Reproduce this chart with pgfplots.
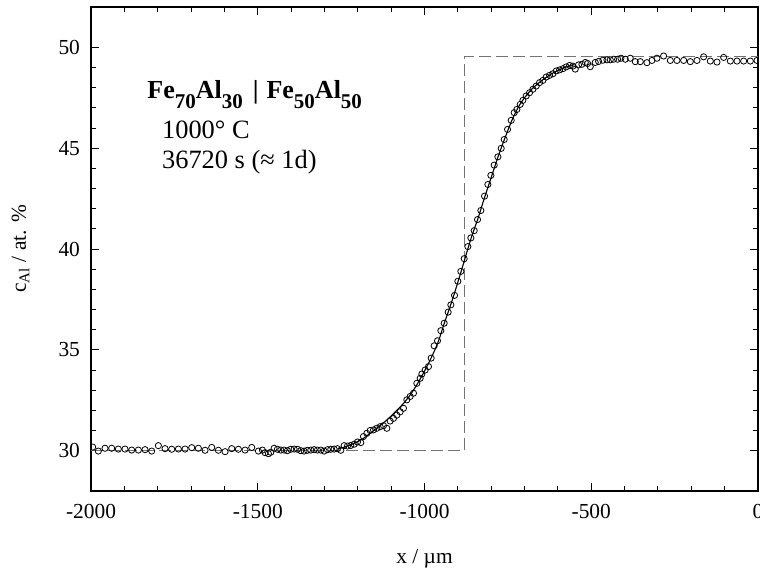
\documentclass[border=0pt]{standalone}
\usepackage{fontspec}
\setmainfont{Liberation Serif}
\usepackage{pgfplots}
\pgfplotsset{compat=1.18}

% measured concentration profile (x in um, c_Al in at.%)
\pgfplotstableread{
x c
-1995 30.18
-1978 29.98
-1958 30.12
-1938 30.12
-1918 30.08
-1898 30.08
-1878 30.03
-1858 30.03
-1838 30.05
-1818 29.98
-1798 30.25
-1778 30.10
-1758 30.07
-1738 30.08
-1718 30.08
-1698 30.15
-1678 30.12
-1658 30.02
-1638 30.16
-1618 30.02
-1598 29.95
-1578 30.10
-1558 30.07
-1538 30.03
-1518 30.16
-1498 29.98
-1486 30.03
-1478 29.90
-1468 29.85
-1461 29.92
-1451 30.12
-1441 30.07
-1431 30.03
-1421 30.03
-1411 30.00
-1401 30.07
-1391 30.08
-1381 30.07
-1371 30.00
-1361 29.98
-1351 30.02
-1341 30.03
-1331 30.05
-1321 30.03
-1311 30.03
-1301 29.98
-1291 30.05
-1281 30.07
-1271 30.08
-1261 30.10
-1251 30.02
-1241 30.25
-1231 30.23
-1221 30.26
-1211 30.32
-1201 30.43
-1191 30.40
-1183 30.70
-1173 30.86
-1163 31.00
-1153 31.03
-1143 31.11
-1133 31.19
-1123 31.24
-1113 31.11
-1103 31.47
-1093 31.60
-1083 31.76
-1073 31.93
-1063 32.10
-1053 32.52
-1043 32.69
-1033 32.85
-1023 33.34
-1013 33.59
-1008 33.80
-998 34.00
-988 34.17
-980 34.59
-971 35.20
-961 35.45
-951 35.95
-941 36.32
-929 36.87
-921 37.23
-910 37.70
-900 38.40
-891 38.89
-881 39.52
-870 40.12
-861 40.55
-851 40.91
-841 41.46
-831 41.91
-820 42.62
-810 43.20
-801 43.65
-791 44.16
-780 44.57
-770 44.99
-761 45.43
-751 45.93
-740 46.38
-731 46.76
-723 46.92
-713 47.17
-705 47.37
-695 47.59
-685 47.75
-675 47.92
-665 48.08
-655 48.25
-645 48.36
-635 48.53
-625 48.61
-615 48.69
-605 48.83
-595 48.88
-585 48.94
-575 49.03
-565 49.10
-555 49.07
-548 48.92
-538 49.13
-528 49.16
-518 49.25
-511 49.20
-503 49.04
-488 49.25
-478 49.30
-465 49.36
-453 49.38
-443 49.38
-433 49.41
-421 49.41
-411 49.46
-398 49.41
-383 49.46
-368 49.29
-353 49.29
-333 49.24
-318 49.35
-303 49.46
-283 49.57
-263 49.35
-243 49.35
-223 49.35
-203 49.29
-183 49.35
-163 49.53
-143 49.32
-123 49.27
-103 49.50
-83 49.32
-63 49.32
-43 49.32
-23 49.32
-3 49.35
}\measured

\begin{document}
\begin{tikzpicture}
\begin{axis}[
  scale only axis, width=333.5pt, height=242pt,
  xmin=-2000, xmax=0, ymin=28, ymax=52,
  xtick={-2000,-1500,...,0}, ytick={30,35,...,50},
  minor x tick num=4, minor y tick num=4,
  tick align=inside, major tick length=4pt, minor tick length=2.5pt,
  axis line style={line width=0.65pt},
  every tick/.style={black, line width=0.5pt},
  /pgf/number format/assume math mode=true,
  /pgf/number format/1000 sep={},
  tick label style={font=\fontsize{10.7}{12}\selectfont},
  xticklabel style={anchor=base, yshift=-13.5pt},
  yticklabel style={anchor=east, xshift=-2pt},
  xlabel={x / µm},
  ylabel={c\textsubscript{Al} / at. \%},
  label style={font=\fontsize{10.7}{12}\selectfont},
  xlabel style={at={(axis description cs:0.5,0)}, anchor=base, yshift=-36pt},
  ylabel style={at={(axis description cs:0,0.5)}, rotate=0, anchor=base, yshift=32.5pt},
  clip marker paths=true,
]
% step profile of the initial couple
\addplot[black!55, line width=0.6pt, dash pattern=on 6pt off 2.5pt] coordinates {
  (-2000,30.0) (-880,30.0) (-880,49.55) (0,49.55)
};
% fitted profile
\addplot[black, line width=0.55pt, smooth] coordinates {
  (-1260,30.08) (-1240,30.18) (-1220,30.30) (-1200,30.45) (-1180,30.65)
  (-1160,30.90) (-1140,31.15) (-1120,31.42) (-1100,31.72) (-1080,32.05)
  (-1060,32.40) (-1040,32.83) (-1020,33.35) (-1000,33.95) (-980,34.60)
  (-960,35.35) (-940,36.35) (-920,37.30) (-900,38.35) (-880,39.45)
  (-860,40.55) (-840,41.50) (-820,42.55) (-800,43.55) (-780,44.55)
  (-760,45.45) (-740,46.30) (-720,47.00) (-700,47.50) (-680,47.90)
  (-660,48.20) (-640,48.45) (-620,48.68) (-600,48.85) (-580,49.00)
  (-560,49.10) (-550,49.15)
};
\addplot[only marks, mark=o, mark size=1.55pt, mark options={black, line width=0.4pt}]
  table[x=x, y=c] {\measured};

\node[anchor=base west, inner sep=0pt, font=\fontsize{13}{14}\selectfont\bfseries]
  at (axis cs:-1832,47.48)
  {Fe\raisebox{-5pt}{\fontsize{10.5}{11}\selectfont 70}Al\raisebox{-5pt}{\fontsize{10.5}{11}\selectfont 30}\hspace{5pt}|\hspace{4pt}Fe\raisebox{-5pt}{\fontsize{10.5}{11}\selectfont 50}Al\raisebox{-5pt}{\fontsize{10.5}{11}\selectfont 50}};
\node[anchor=base west, inner sep=0pt, font=\fontsize{13.2}{15}\selectfont]
  at (axis cs:-1788,45.46) {1000° C};
\node[anchor=base west, inner sep=0pt, font=\fontsize{13.2}{15}\selectfont]
  at (axis cs:-1788,43.97) {36720 s (≈ 1d)};
\end{axis}
\pgfresetboundingbox
\path[use as bounding box] ([xshift=-45.5pt,yshift=-38.5pt]current axis.south west)
  rectangle ([xshift=1pt,yshift=3.5pt]current axis.north east);
\end{tikzpicture}
\end{document}
